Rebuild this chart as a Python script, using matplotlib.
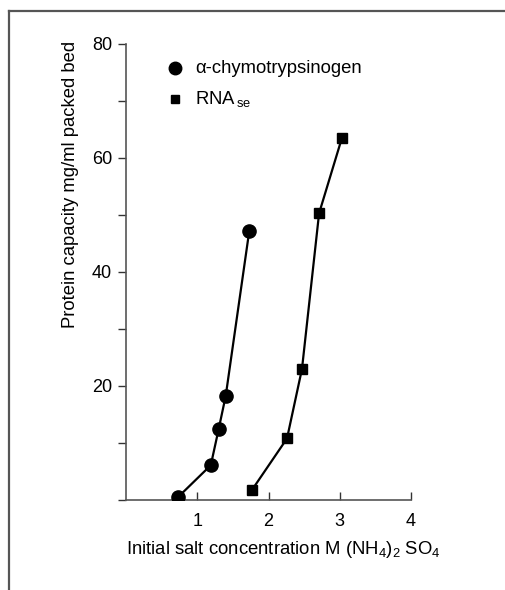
import matplotlib.pyplot as plt
from matplotlib.lines import Line2D
from matplotlib.ticker import MultipleLocator

plt.rcParams['font.family'] = ['Liberation Sans', 'DejaVu Sans']
plt.rcParams['mathtext.fontset'] = 'custom'
plt.rcParams['mathtext.rm'] = 'Liberation Sans'
plt.rcParams['mathtext.it'] = 'Liberation Sans'

# alpha-chymotrypsinogen
chymo_salt = [0.73, 1.19, 1.30, 1.40, 1.73]
chymo_cap = [0.5, 6.1, 12.4, 18.3, 47.2]

# RNase
rnase_salt = [1.77, 2.26, 2.47, 2.71, 3.03]
rnase_cap = [1.8, 10.8, 23.0, 50.3, 63.5]

x_ticks = [1, 2, 3, 4]
y_ticks = [20, 40, 60, 80]

fig = plt.figure(figsize=(5.05, 5.9), dpi=100)
ax = fig.add_axes([126 / 505, 1 - 500 / 590, 285 / 505, 456 / 590])

ax.plot(chymo_salt, chymo_cap, '-o', color='black', lw=1.6, ms=9.5, zorder=3)
ax.plot(rnase_salt, rnase_cap, '-s', color='black', lw=1.6, ms=7, zorder=3)

ax.set_xlim(0, 4)
ax.set_ylim(0, 80)
ax.set_xticks(x_ticks)
ax.set_yticks(y_ticks)
ax.yaxis.set_minor_locator(MultipleLocator(10))
ax.tick_params(axis='x', direction='in', length=6, width=1, labelsize=13,
               pad=9, colors='#333333', labelcolor='black')
ax.tick_params(axis='y', which='both', direction='out', length=6, width=1,
               labelsize=13, colors='#333333', labelcolor='black', pad=4)
for s in ['top', 'right']:
    ax.spines[s].set_visible(False)
for s in ['left', 'bottom']:
    ax.spines[s].set_color('#555555')
    ax.spines[s].set_linewidth(1.2)
ax.patch.set_alpha(0)

ax.set_xlabel('Initial salt concentration M (NH$_4$)$_2$ SO$_4$', fontsize=13.3)
ax.xaxis.set_label_coords(0.553, -0.085)
ax.text(-0.196, 0.693, 'Protein capacity mg/ml packed bed', transform=ax.transAxes,
        rotation=90, ha='center', va='center', fontsize=13.3)

# legend drawn by hand like the original
ax.plot([0.172], [0.947], 'o', color='black', ms=9, transform=ax.transAxes,
        clip_on=False)
ax.text(0.242, 0.947, 'α-chymotrypsinogen', transform=ax.transAxes,
        va='center', fontsize=13.3)
ax.plot([0.172], [0.879], 's', color='black', ms=6, transform=ax.transAxes,
        clip_on=False)
ax.text(0.242, 0.879, 'RNA$_{\\,\\rm se}$', transform=ax.transAxes,
        va='center', fontsize=13.3)

# frame around the figure
fig.add_artist(Line2D([9 / 505, 9 / 505], [0, 1 - 11 / 590], color='#555555',
                      lw=1.6, transform=fig.transFigure))
fig.add_artist(Line2D([9 / 505, 1], [1 - 11 / 590, 1 - 11 / 590],
                      color='#555555', lw=1.6, transform=fig.transFigure))

fig.savefig('out.png', dpi=100)
